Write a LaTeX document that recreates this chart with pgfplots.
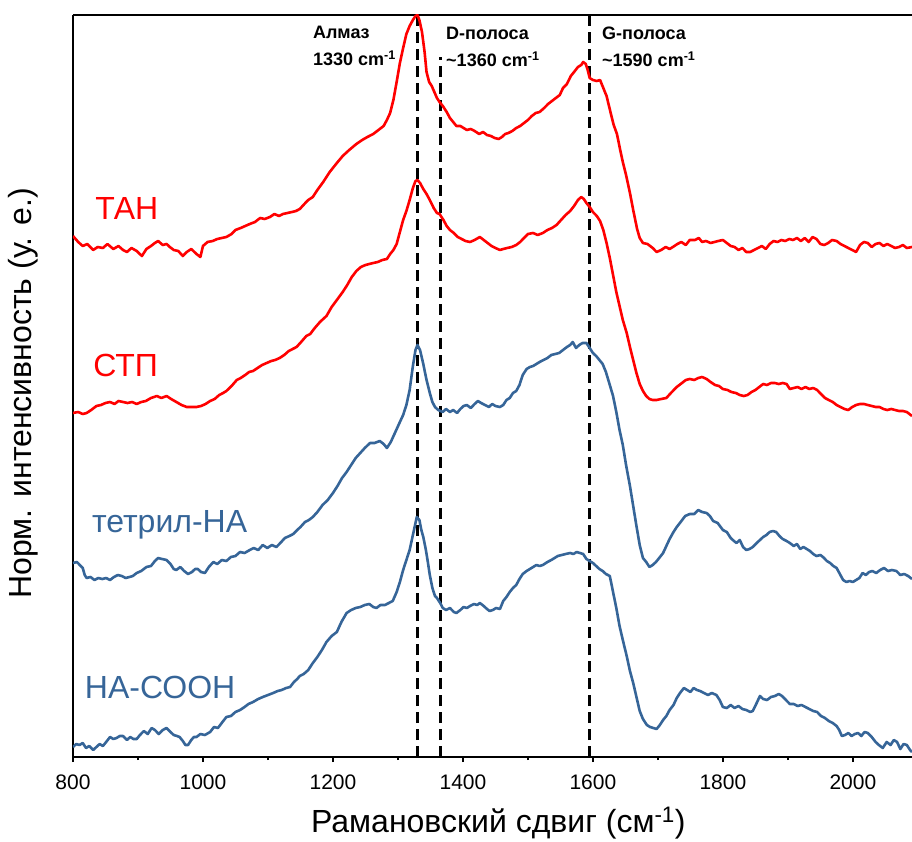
\documentclass[border=0pt]{standalone}
\usepackage{fontspec}
\setmainfont{Liberation Sans}
\usepackage{pgfplots}
\pgfplotsset{compat=1.18}
\definecolor{nblue}{RGB}{54,101,152}
\definecolor{nred}{RGB}{255,0,0}
\begin{document}
\begin{tikzpicture}
\begin{axis}[
  at={(0pt,0pt)}, anchor=south west,
  scale only axis, width=839pt, height=742pt,
  xmin=800, xmax=2091, ymin=0, ymax=742,
  axis x line*=box, axis y line*=left,
  axis line style={line width=1.6pt, black},
  xtick={800,1000,...,2000}, minor x tick num=1,
  ytick=\empty,
  tick align=outside, tick pos=left,
  major tick length=5pt, minor tick length=3pt,
  every tick/.append style={line width=1.5pt, black},
  /pgf/number format/assume math mode=true,
  /pgf/number format/1000 sep={},
  ticklabel style={font=\fontsize{21}{25}\selectfont},
  xticklabel style={anchor=base, yshift=-27pt},
  xlabel={Рамановский сдвиг (см\textsuperscript{-1})},
  ylabel={Норм. интенсивность (у. е.)},
  xlabel style={at={([yshift=-75pt]axis description cs:0.507,0)}, anchor=base, font=\fontsize{32}{38}\selectfont},
  ylabel style={at={([xshift=-41pt]axis description cs:0,0.49)}, anchor=base, font=\fontsize{32}{38}\selectfont},
  clip=true,
]
% dashed reference lines
\addplot[black, line width=2.8pt, dash pattern=on 11pt off 6pt] coordinates {(1330,0) (1330,742)};
\addplot[black, line width=2.8pt, dash pattern=on 11pt off 6pt] coordinates {(1365,0) (1365,700)};
\addplot[black, line width=2.8pt, dash pattern=on 11pt off 6pt] coordinates {(1595,0) (1595,742)};

% NA-COOH
\addplot[nblue, line width=2.6pt, line join=round] coordinates {
(800,10)(805,13)(810,12)(815,14)(820,9)(825,11)(831,7)(836,10)(841,13)(846,11)(851,15)(857,20)(862,18)(867,19)(872,21)(877,21)(883,17)(888,20)(893,18)(898,18)(903,22)(909,26)(915,23)(921,29)(926,27)(932,23)(938,27)(944,29)(950,25)(955,22)(960,21)(964,20)(969,16)(973,12)(977,12)(982,17)(986,20)(990,20)(996,23)(1003,22)(1011,25)(1017,30)(1023,29)(1030,35)(1036,40)(1043,41)(1050,45)(1057,47)(1064,50)(1070,53)(1077,55)(1085,58)(1092,60)(1100,62)(1108,64)(1115,66)(1121,67)(1128,69)(1134,70)(1140,75)(1145,78)(1149,81)(1155,83)(1162,87)(1169,94)(1176,100)(1183,107)(1190,115)(1198,121)(1206,125)(1213,135)(1221,144)(1228,147)(1235,149)(1242,150)(1249,152)(1256,153)(1262,150)(1267,149)(1273,152)(1280,152)(1286,154)(1292,156)(1298,165)(1303,175)(1308,187)(1313,197)(1318,207)(1322,219)(1326,231)(1329,240)(1333,237)(1336,227)(1339,220)(1343,207)(1346,195)(1349,182)(1353,169)(1357,161)(1360,159)(1365,154)(1369,149)(1374,147)(1380,149)(1386,145)(1390,144)(1396,147)(1401,150)(1406,149)(1411,151)(1417,153)(1422,152)(1426,154)(1432,151)(1437,148)(1441,146)(1446,147)(1451,149)(1457,148)(1462,156)(1467,160)(1472,165)(1477,169)(1482,172)(1487,178)(1492,183)(1498,186)(1503,188)(1508,190)(1513,192)(1518,191)(1523,192)(1530,195)(1536,197)(1541,199)(1546,201)(1552,202)(1558,203)(1565,204)(1570,203)(1575,205)(1580,204)(1585,203)(1590,198)(1595,196)(1600,194)(1605,191)(1610,188)(1615,186)(1620,183)(1626,181)(1631,165)(1636,149)(1641,131)(1646,117)(1652,101)(1657,86)(1662,74)(1667,60)(1672,46)(1677,38)(1683,32)(1688,30)(1693,29)(1698,28)(1703,32)(1708,37)(1713,41)(1718,47)(1724,52)(1729,59)(1734,64)(1740,69)(1745,67)(1750,65)(1755,69)(1760,67)(1765,66)(1771,64)(1777,62)(1783,64)(1790,62)(1795,57)(1800,50)(1806,49)(1812,52)(1818,49)(1824,51)(1830,48)(1836,47)(1842,45)(1846,46)(1852,54)(1857,61)(1862,58)(1868,57)(1874,60)(1880,61)(1886,63)(1891,61)(1897,57)(1903,53)(1909,53)(1915,51)(1921,52)(1927,50)(1933,48)(1939,46)(1945,45)(1951,41)(1957,39)(1963,36)(1969,34)(1975,31)(1979,27)(1983,21)(1988,22)(1993,24)(1998,21)(2003,23)(2008,24)(2013,21)(2018,25)(2023,24)(2029,20)(2035,15)(2040,12)(2046,9)(2052,15)(2058,12)(2063,17)(2068,15)(2073,8)(2078,13)(2083,12)(2088,7)(2091,5)
};

% tetryl-NA
\addplot[nblue, line width=2.6pt, line join=round] coordinates {
(800,194)(806,195)(812,191)(815,189)(818,182)(821,179)(827,180)(833,177)(839,179)(845,178)(851,179)(857,177)(863,180)(869,182)(875,181)(881,179)(887,180)(892,181)(898,184)(905,186)(913,190)(920,191)(926,196)(931,199)(937,198)(944,197)(950,193)(955,188)(959,187)(965,190)(971,186)(977,183)(983,185)(988,188)(992,188)(997,185)(1003,184)(1009,190)(1016,195)(1022,193)(1029,197)(1036,196)(1043,200)(1050,201)(1057,205)(1064,204)(1072,207)(1078,209)(1085,207)(1092,212)(1099,209)(1106,212)(1113,210)(1119,214)(1126,219)(1133,221)(1139,223)(1145,227)(1150,230)(1157,235)(1163,237)(1169,240)(1176,245)(1184,252)(1192,257)(1200,264)(1207,271)(1214,279)(1221,285)(1228,292)(1235,299)(1242,304)(1249,309)(1257,314)(1264,314)(1272,316)(1278,313)(1283,309)(1289,315)(1296,325)(1303,335)(1308,342)(1313,352)(1318,367)(1323,391)(1327,407)(1330,412)(1334,407)(1339,393)(1344,377)(1349,364)(1353,355)(1357,350)(1362,347)(1369,345)(1374,348)(1380,345)(1385,347)(1391,344)(1396,348)(1401,351)(1406,352)(1412,349)(1418,353)(1423,356)(1428,354)(1434,352)(1440,350)(1445,353)(1450,351)(1457,350)(1462,352)(1467,357)(1472,359)(1477,364)(1482,366)(1487,372)(1492,382)(1498,388)(1503,390)(1508,391)(1513,393)(1518,395)(1524,397)(1530,399)(1536,402)(1542,403)(1548,404)(1554,407)(1560,410)(1565,412)(1569,415)(1574,409)(1579,412)(1584,414)(1590,414)(1595,409)(1600,404)(1605,401)(1610,397)(1615,393)(1620,385)(1626,372)(1631,361)(1636,345)(1641,327)(1646,312)(1651,292)(1657,271)(1662,251)(1667,231)(1672,212)(1677,199)(1682,195)(1687,190)(1692,192)(1697,195)(1702,199)(1708,204)(1713,211)(1718,218)(1724,225)(1729,230)(1735,235)(1742,241)(1749,243)(1756,243)(1762,247)(1768,245)(1775,244)(1780,241)(1785,236)(1792,234)(1800,227)(1806,225)(1812,219)(1817,216)(1821,214)(1826,217)(1831,210)(1836,207)(1841,208)(1846,210)(1852,214)(1857,217)(1862,220)(1867,222)(1872,225)(1877,226)(1882,225)(1887,221)(1892,218)(1898,216)(1903,214)(1909,211)(1914,213)(1919,208)(1924,210)(1929,208)(1934,206)(1939,203)(1944,201)(1950,202)(1954,200)(1960,196)(1965,194)(1970,191)(1975,189)(1980,183)(1985,177)(1990,175)(1995,176)(2000,175)(2005,177)(2010,179)(2015,184)(2020,182)(2025,185)(2030,186)(2036,184)(2042,187)(2048,189)(2054,186)(2060,187)(2067,186)(2073,182)(2079,183)(2085,181)(2091,178)
};

% STP
\addplot[nred, line width=2.6pt, line join=round] coordinates {
(800,344)(808,345)(815,343)(821,344)(828,347)(836,351)(843,352)(850,354)(857,355)(864,353)(870,356)(877,355)(884,354)(891,355)(898,353)(905,355)(912,356)(920,359)(929,361)(936,359)(944,361)(951,358)(959,355)(967,352)(975,350)(982,350)(990,350)(997,351)(1004,353)(1011,356)(1018,358)(1025,362)(1031,364)(1036,366)(1044,371)(1052,377)(1058,379)(1065,382)(1071,385)(1077,386)(1084,389)(1091,392)(1098,394)(1105,396)(1111,397)(1118,399)(1125,402)(1132,406)(1138,408)(1144,410)(1151,415)(1159,421)(1165,423)(1172,429)(1180,435)(1190,441)(1198,450)(1206,457)(1215,465)(1222,472)(1229,480)(1236,486)(1243,490)(1250,492)(1256,493)(1262,494)(1269,495)(1276,497)(1283,498)(1288,503)(1293,507)(1298,513)(1303,525)(1308,537)(1313,546)(1318,557)(1323,569)(1327,576)(1330,577)(1334,574)(1339,568)(1344,563)(1349,557)(1355,549)(1360,544)(1364,543)(1370,537)(1375,531)(1380,527)(1386,524)(1392,520)(1398,518)(1404,516)(1411,515)(1418,517)(1426,520)(1432,517)(1438,514)(1444,511)(1450,509)(1457,507)(1462,508)(1468,509)(1475,510)(1482,512)(1488,515)(1494,519)(1500,523)(1508,524)(1515,522)(1523,524)(1530,527)(1537,529)(1544,532)(1551,537)(1558,542)(1565,546)(1571,551)(1577,557)(1582,560)(1586,558)(1590,554)(1595,550)(1600,545)(1606,541)(1611,536)(1616,527)(1621,514)(1626,499)(1631,482)(1636,465)(1641,451)(1646,437)(1652,424)(1657,410)(1662,397)(1667,384)(1672,373)(1677,366)(1682,361)(1687,358)(1692,357)(1698,357)(1705,358)(1713,359)(1720,364)(1729,370)(1737,374)(1743,377)(1749,378)(1756,377)(1762,379)(1768,380)(1775,378)(1781,375)(1788,372)(1794,371)(1800,368)(1807,367)(1813,365)(1820,364)(1826,362)(1832,361)(1838,362)(1844,365)(1850,367)(1856,370)(1862,373)(1868,372)(1874,374)(1880,374)(1886,373)(1892,374)(1898,373)(1903,368)(1909,369)(1915,370)(1921,368)(1927,370)(1933,368)(1939,369)(1945,367)(1951,363)(1957,359)(1963,357)(1969,355)(1975,352)(1981,350)(1987,348)(1993,347)(1999,350)(2005,352)(2011,353)(2017,353)(2023,352)(2029,351)(2035,350)(2041,350)(2047,348)(2053,347)(2059,348)(2065,347)(2071,346)(2077,346)(2083,345)(2091,341)
};

% TAN
\addplot[nred, line width=2.6pt, line join=round] coordinates {
(800,521)(808,515)(815,511)(822,513)(831,507)(838,510)(846,509)(853,513)(862,508)(870,511)(877,507)(883,505)(890,509)(898,506)(906,501)(913,508)(920,511)(926,514)(931,516)(938,512)(944,513)(949,510)(955,507)(962,506)(969,501)(975,505)(982,508)(990,503)(996,500)(1000,511)(1007,515)(1015,516)(1022,518)(1029,519)(1036,520)(1044,523)(1050,527)(1058,529)(1065,531)(1072,533)(1080,535)(1088,539)(1095,538)(1103,540)(1110,543)(1117,541)(1123,543)(1130,544)(1137,545)(1143,546)(1149,548)(1156,553)(1162,557)(1169,560)(1176,567)(1185,575)(1195,585)(1206,594)(1215,601)(1225,607)(1236,613)(1245,617)(1253,620)(1262,623)(1270,627)(1278,631)(1283,637)(1288,644)(1293,657)(1298,675)(1303,694)(1308,709)(1313,723)(1318,731)(1323,737)(1327,741)(1330,742)(1333,737)(1337,725)(1341,705)(1344,685)(1348,675)(1352,671)(1356,665)(1360,659)(1364,655)(1369,651)(1375,645)(1380,639)(1385,635)(1390,631)(1396,631)(1401,629)(1406,627)(1412,628)(1418,626)(1425,623)(1431,625)(1437,622)(1443,621)(1449,619)(1455,618)(1460,620)(1465,623)(1470,624)(1476,626)(1482,629)(1488,631)(1494,634)(1500,637)(1506,641)(1512,644)(1518,645)(1525,649)(1531,653)(1537,656)(1543,659)(1549,662)(1554,669)(1560,673)(1566,681)(1571,685)(1577,690)(1582,692)(1585,695)(1589,693)(1592,687)(1595,679)(1600,677)(1606,676)(1611,677)(1616,669)(1621,661)(1627,645)(1632,632)(1637,623)(1642,607)(1646,595)(1651,582)(1657,564)(1662,547)(1668,528)(1672,519)(1677,514)(1684,513)(1692,509)(1698,505)(1705,507)(1712,510)(1718,508)(1723,510)(1730,513)(1736,515)(1743,512)(1749,517)(1757,517)(1763,519)(1768,515)(1774,516)(1781,514)(1787,515)(1793,516)(1800,517)(1806,514)(1812,511)(1818,510)(1824,507)(1830,509)(1836,505)(1842,505)(1848,507)(1854,509)(1860,511)(1866,508)(1872,513)(1878,516)(1884,515)(1890,517)(1896,516)(1902,518)(1908,517)(1914,519)(1920,516)(1926,519)(1932,515)(1938,520)(1944,518)(1950,513)(1956,512)(1962,514)(1968,517)(1975,516)(1981,513)(1987,511)(1993,509)(1999,507)(2005,505)(2011,512)(2017,515)(2023,514)(2029,510)(2035,513)(2041,514)(2047,511)(2053,513)(2059,511)(2065,509)(2071,510)(2077,512)(2083,509)(2091,510)
};

% curve labels
\node[anchor=base west, inner sep=0pt, text=nred, font=\fontsize{32}{38}\selectfont] at (axis cs:834,537) {ТАН};
\node[anchor=base west, inner sep=0pt, text=nred, font=\fontsize{32}{38}\selectfont] at (axis cs:831,380) {СТП};
\node[anchor=base west, inner sep=0pt, text=nblue, font=\fontsize{32}{38}\selectfont] at (axis cs:829,225) {тетрил-НА};
\node[anchor=base west, inner sep=0pt, text=nblue, font=\fontsize{32}{38}\selectfont] at (axis cs:818,59) {НА-СООН};

% band annotations
\node[anchor=base west, inner sep=0pt, font=\bfseries\fontsize{18}{21}\selectfont] at (axis cs:1169,718) {Алмаз};
\node[anchor=base west, inner sep=0pt, font=\bfseries\fontsize{18}{21}\selectfont] at (axis cs:1169,691) {1330 cm\textsuperscript{-1}};
\node[anchor=base west, inner sep=0pt, font=\bfseries\fontsize{18}{21}\selectfont] at (axis cs:1374,717) {D-полоса};
\node[anchor=base west, inner sep=0pt, font=\bfseries\fontsize{18}{21}\selectfont] at (axis cs:1374,690) {\textasciitilde1360 cm\textsuperscript{-1}};
\node[anchor=base west, inner sep=0pt, font=\bfseries\fontsize{18}{21}\selectfont] at (axis cs:1614,717) {G-полоса};
\node[anchor=base west, inner sep=0pt, font=\bfseries\fontsize{18}{21}\selectfont] at (axis cs:1614,690) {\textasciitilde1590 cm\textsuperscript{-1}};
\end{axis}
\pgfresetboundingbox
\path[use as bounding box] (-73pt,-84pt) rectangle (839pt,757pt);
\end{tikzpicture}
\end{document}
